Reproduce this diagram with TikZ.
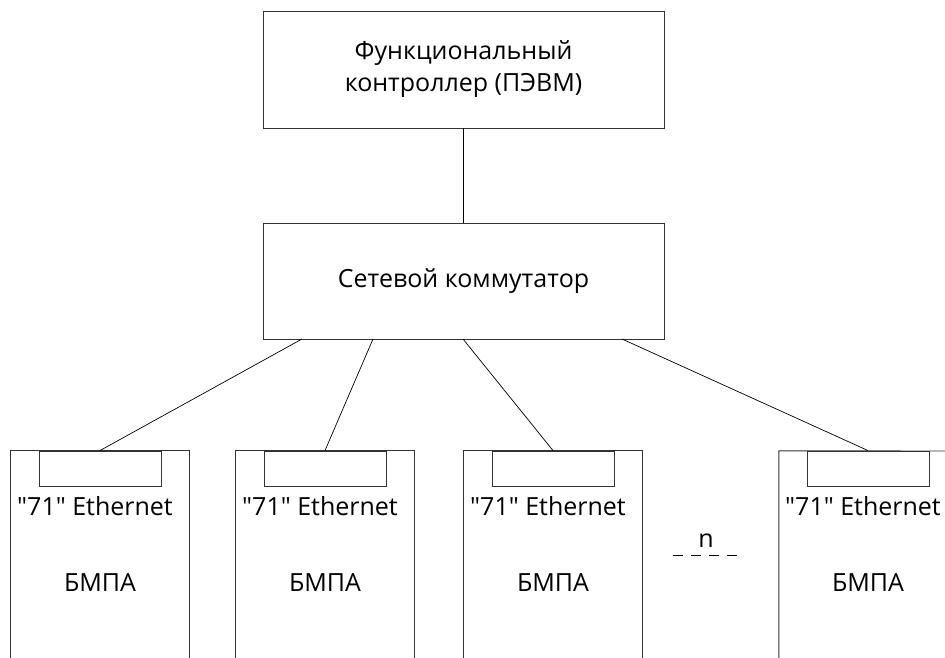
\documentclass[tikz,border=0pt]{standalone}
\usepackage{fontspec}
\newfontfamily\osans{Open Sans}
\begin{document}
\begin{tikzpicture}[x=1pt,y=-1pt,
  box/.style={draw=black!80, line width=0.9pt, rectangle, minimum width=401pt, align=center, inner sep=0pt, font=\osans\fontsize{25}{32}\selectfont},
  unit/.style={rectangle, minimum width=178pt, minimum height=207pt, inner sep=0pt},
  port/.style={draw=black!80, line width=0.9pt, rectangle, minimum width=122pt, minimum height=35pt, inner sep=0pt},
  lbl/.style={inner sep=0pt, font=\osans\fontsize{25}{30}\selectfont},
  wire/.style={draw=black, line width=0.7pt},
  frame/.style={draw=black!80, line width=0.9pt}]
\useasboundingbox (0,0) rectangle (945,658);
\node[box, minimum height=117pt] (ctrl) at (463.5,69.5) {Функциональный\\контроллер (ПЭВМ)};
\node[box, minimum height=116pt] (sw) at (463.5,281) {Сетевой коммутатор};
\draw[wire] (ctrl.south) -- (sw.north);
% units
\foreach \i/\x in {1/100, 2/325, 3/553, 4/868} {
  \node[unit] (u\i) at (\x,554.5) {};
  \node[port] (p\i) at (\x,468.5) {};
  \node[lbl] (e\i) at (\x-5,506) {"71" Ethernet};
  \node[lbl] (m\i) at (\x,583) {БМПА};
}
\foreach \i in {1,2,3} {
  \draw[frame] (u\i.south west) -- (u\i.north west) -- (u\i.north east) -- (u\i.south east);
}
\coordinate (edge) at (945,451);
\draw[frame] (u4.south west) -- (u4.north west) -- (edge);
% connectors
\coordinate (s1) at (302,339);
\coordinate (s2) at (373,339);
\coordinate (s3) at (463,339);
\coordinate (s4) at (622,339);
\foreach \i in {1,2,3,4} { \draw[wire] (s\i) -- (p\i.north); }
% n
\node[lbl] (n) at (706,541) {n};
\coordinate (d1) at (673,555);
\coordinate (d2) at (740,555);
\draw[black, line width=0.8pt, dash pattern=on 10pt off 8pt] (d1) -- (d2);
\end{tikzpicture}
\end{document}
